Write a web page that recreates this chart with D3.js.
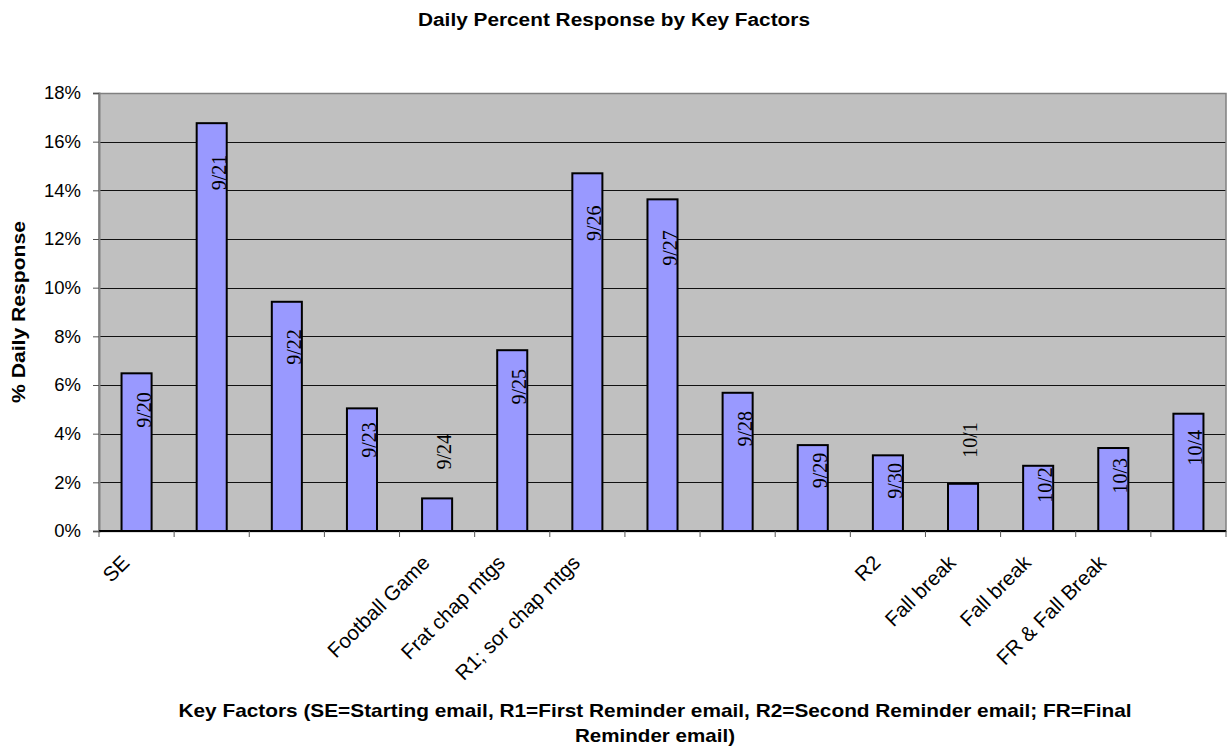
<!DOCTYPE html>
<html>
<head>
<meta charset="utf-8">
<script src="https://cdn.jsdelivr.net/npm/d3@7"></script>
<style>
  html, body { margin: 0; padding: 0; background: #fff; }
  svg { display: block; }
</style>
</head>
<body>
<svg id="chart" width="1228" height="748"></svg>
<script>
// Survey days, shown as labels on the bars
const dates = ["9/20", "9/21", "9/22", "9/23", "9/24", "9/25", "9/26", "9/27",
               "9/28", "9/29", "9/30", "10/1", "10/2", "10/3", "10/4"];
// Key factor noted for each day (x-axis categories)
const factors = ["SE", "", "", "", "Football Game", "Frat chap mtgs", "R1; sor chap mtgs", "",
                 "", "", "R2", "Fall break", "Fall break", "FR & Fall Break", ""];
// Daily response, percent
const dailyPct = [6.48, 16.76, 9.42, 5.04, 1.34, 7.43, 14.70, 13.63,
                  5.68, 3.53, 3.11, 1.94, 2.68, 3.41, 4.82];
// Level (percent) at which each date label sits
const dateLabelAt = [4.97, 14.73, 7.56, 3.74, 3.26, 5.93, 12.65, 11.63,
                     4.20, 2.49, 2.06, 3.74, 1.89, 2.27, 3.42];
// Value axis ticks
const yTicks = [0, 2, 4, 6, 8, 10, 12, 14, 16, 18];

const svg = d3.select("#chart");
const plot = { left: 99, top: 93, right: 1226, bottom: 531 };

const x = d3.scaleBand()
  .domain(d3.range(dates.length))
  .range([plot.left, plot.right])
  .paddingInner(0.6)
  .paddingOuter(0.3);
const xCat = d3.scaleBand()
  .domain(d3.range(dates.length))
  .range([plot.left, plot.right]);
const y = d3.scaleLinear().domain([0, 18]).range([plot.bottom, plot.top]);

// plot area background
svg.append("rect")
  .attr("x", plot.left).attr("y", plot.top)
  .attr("width", plot.right - plot.left).attr("height", plot.bottom - plot.top)
  .attr("fill", "#c0c0c0");

// horizontal gridlines
svg.append("g")
  .selectAll("line")
  .data(yTicks.filter(t => t > 0 && t < 18))
  .join("line")
  .attr("x1", plot.left).attr("x2", plot.right)
  .attr("y1", d => Math.round(y(d)) + 0.5).attr("y2", d => Math.round(y(d)) + 0.5)
  .attr("stroke", "#111").attr("stroke-width", 1);

// plot border
svg.append("rect")
  .attr("x", plot.left).attr("y", plot.top + 0.5)
  .attr("width", plot.right - plot.left).attr("height", plot.bottom - plot.top)
  .attr("fill", "none").attr("stroke", "#808080").attr("stroke-width", 1.5);

// bars
svg.append("g")
  .selectAll("rect")
  .data(dailyPct)
  .join("rect")
  .attr("x", (d, i) => x(i))
  .attr("y", d => y(d))
  .attr("width", x.bandwidth())
  .attr("height", d => y(0) - y(d))
  .attr("fill", "#9999ff")
  .attr("stroke", "#000")
  .attr("stroke-width", 2);

// y axis
const yAxis = d3.axisLeft(y)
  .tickValues(yTicks)
  .tickFormat(d => d + "%")
  .tickSize(6)
  .tickPadding(12);
const gy = svg.append("g")
  .attr("transform", `translate(${plot.left},0)`)
  .call(yAxis);
gy.select(".domain").attr("stroke", "#808080").attr("stroke-width", 2);
gy.selectAll(".tick line").attr("stroke", "#555");
gy.selectAll(".tick text")
  .attr("font-family", "Liberation Sans, Arial, sans-serif")
  .attr("font-size", 18.5)
  .attr("fill", "#000");

// x axis: category boundary ticks
const gx = svg.append("g");
gx.append("line")
  .attr("x1", plot.left).attr("x2", plot.right)
  .attr("y1", plot.bottom).attr("y2", plot.bottom)
  .attr("stroke", "#000").attr("stroke-width", 2);
gx.selectAll("line.tk")
  .data(d3.range(dates.length + 1))
  .join("line")
  .attr("class", "tk")
  .attr("x1", i => i < dates.length ? xCat(i) : plot.right)
  .attr("x2", i => i < dates.length ? xCat(i) : plot.right)
  .attr("y1", plot.bottom).attr("y2", plot.bottom + 6)
  .attr("stroke", "#555").attr("stroke-width", 1);

// factor labels, rotated
gx.selectAll("text")
  .data(factors)
  .join("text")
  .attr("transform", (d, i) => `translate(${xCat(i) + xCat.bandwidth() / 2 - 6},${plot.bottom + 33}) rotate(-45)`)
  .attr("text-anchor", "end")
  .attr("font-family", "Liberation Sans, Arial, sans-serif")
  .attr("font-size", 20.5)
  .attr("fill", "#000")
  .text(d => d);

// date labels on the bars
svg.append("g")
  .selectAll("text")
  .data(dates)
  .join("text")
  .attr("transform", (d, i) => `translate(${x(i) + x.bandwidth() / 2 + 14},${y(dateLabelAt[i])}) rotate(-90)`)
  .attr("text-anchor", "middle")
  .attr("font-family", "Liberation Serif, Times New Roman, serif")
  .attr("font-size", 20)
  .attr("fill", "#000")
  .text(d => d);

// chart title
svg.append("text")
  .attr("x", 614).attr("y", 26)
  .attr("text-anchor", "middle")
  .attr("font-family", "Liberation Sans, Arial, sans-serif")
  .attr("font-weight", "bold")
  .attr("font-size", 17.5)
  .attr("textLength", 392).attr("lengthAdjust", "spacingAndGlyphs")
  .text("Daily Percent Response by Key Factors");

// y axis title
svg.append("text")
  .attr("transform", `translate(25,${(plot.top + plot.bottom) / 2}) rotate(-90)`)
  .attr("text-anchor", "middle")
  .attr("font-family", "Liberation Sans, Arial, sans-serif")
  .attr("font-weight", "bold")
  .attr("font-size", 18)
  .attr("textLength", 182).attr("lengthAdjust", "spacingAndGlyphs")
  .text("% Daily Response");

// x axis title, two lines
const xTitle = svg.append("g")
  .attr("font-family", "Liberation Sans, Arial, sans-serif")
  .attr("font-weight", "bold")
  .attr("font-size", 18.5)
  .attr("text-anchor", "middle");
xTitle.append("text")
  .attr("x", 655).attr("y", 717)
  .attr("textLength", 953).attr("lengthAdjust", "spacingAndGlyphs")
  .text("Key Factors (SE=Starting email, R1=First Reminder email, R2=Second Reminder email; FR=Final");
xTitle.append("text")
  .attr("x", 655).attr("y", 742)
  .attr("textLength", 160).attr("lengthAdjust", "spacingAndGlyphs")
  .text("Reminder email)");
</script>
</body>
</html>
